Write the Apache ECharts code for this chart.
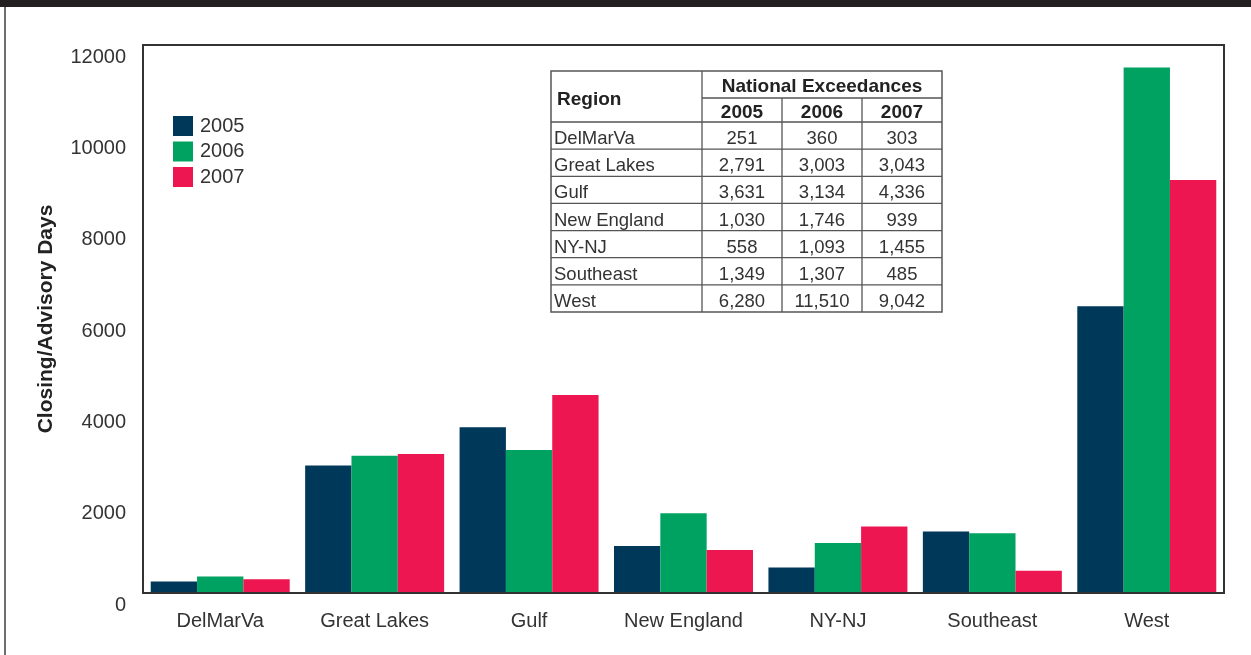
<!DOCTYPE html>
<html>
<head>
<meta charset="utf-8">
<script src="https://cdn.jsdelivr.net/npm/echarts@6/dist/echarts.min.js"></script>
<style>
  html, body { margin: 0; padding: 0; background: #fff; }
  #chart { width: 1251px; height: 655px; }
</style>
</head>
<body>
<div id="chart"></div>
<script>
// Regions and closing/advisory days per year
const regions = ['DelMarVa', 'Great Lakes', 'Gulf', 'New England', 'NY-NJ', 'Southeast', 'West'];
const years = ['2005', '2006', '2007'];
const days2005 = [251, 2791, 3631, 1030, 558, 1349, 6280];
const days2006 = [360, 3003, 3134, 1746, 1093, 1307, 11510];
const days2007 = [303, 3043, 4336, 939, 1455, 485, 9042];
const yTicks = { min: 0, max: 12000, interval: 2000 };

const seriesData = [days2005, days2006, days2007];
const colors = ['#00385a', '#00a261', '#ee1650'];
const FONT = '"Liberation Sans", Arial, sans-serif';
const TEXT = '#333333';

// Inset table of national exceedances
function buildTable() {
  const colX = [551, 702, 782, 862, 942];
  const yTop = 71, ySub = 98, yHead = 122, rowH = 27.14;
  const yBottom = yHead + rowH * regions.length;
  const line = { stroke: '#555', lineWidth: 1.3 };
  const els = [];
  els.push({ type: 'rect', shape: { x: colX[0], y: yTop, width: colX[4] - colX[0], height: yBottom - yTop },
             style: { fill: '#fff', stroke: '#555', lineWidth: 1.5 }, z: 10 });
  // vertical lines
  els.push({ type: 'line', shape: { x1: colX[1], y1: yTop, x2: colX[1], y2: yBottom }, style: line, z: 11 });
  for (let c = 2; c <= 3; c++) {
    els.push({ type: 'line', shape: { x1: colX[c], y1: ySub, x2: colX[c], y2: yBottom }, style: line, z: 11 });
  }
  // horizontal lines
  els.push({ type: 'line', shape: { x1: colX[1], y1: ySub, x2: colX[4], y2: ySub }, style: line, z: 11 });
  for (let r = 0; r < regions.length; r++) {
    const y = yHead + rowH * r;
    els.push({ type: 'line', shape: { x1: colX[0], y1: y, x2: colX[4], y2: y }, style: line, z: 11 });
  }
  const boldFont = 'bold 19px ' + FONT;
  const bodyFont = '18.5px ' + FONT;
  els.push({ type: 'text', x: 557, y: (yTop + yHead) / 2 + 3, z: 12,
             style: { text: 'Region', font: boldFont, fill: '#222', textAlign: 'left', textVerticalAlign: 'middle' } });
  els.push({ type: 'text', x: (colX[1] + colX[4]) / 2, y: (yTop + ySub) / 2 + 2, z: 12,
             style: { text: 'National Exceedances', font: boldFont, fill: '#222', textAlign: 'center', textVerticalAlign: 'middle' } });
  years.forEach((yr, i) => {
    els.push({ type: 'text', x: (colX[i + 1] + colX[i + 2]) / 2, y: (ySub + yHead) / 2 + 3, z: 12,
               style: { text: yr, font: boldFont, fill: '#222', textAlign: 'center', textVerticalAlign: 'middle' } });
  });
  regions.forEach((name, r) => {
    const cy = yHead + rowH * r + rowH / 2 + 3.5;
    els.push({ type: 'text', x: 554, y: cy, z: 12,
               style: { text: name, font: bodyFont, fill: TEXT, textAlign: 'left', textVerticalAlign: 'middle' } });
    seriesData.forEach((arr, i) => {
      els.push({ type: 'text', x: (colX[i + 1] + colX[i + 2]) / 2, y: cy, z: 12,
                 style: { text: arr[r].toLocaleString('en-US'), font: bodyFont, fill: TEXT, textAlign: 'center', textVerticalAlign: 'middle' } });
    });
  });
  return els;
}

// Page frame: dark top band and thin left rule
const frame = [
  { type: 'rect', shape: { x: 0, y: 0, width: 1251, height: 7 }, style: { fill: '#231f20' }, z: 20 },
  { type: 'rect', shape: { x: 4, y: 7, width: 2, height: 648 }, style: { fill: '#6e6e6e' }, z: 20 }
];

const chart = echarts.init(document.getElementById('chart'), null, { renderer: 'canvas' });
chart.setOption({
  animation: false,
  backgroundColor: '#ffffff',
  textStyle: { fontFamily: FONT },
  grid: { left: 143, top: 45, right: 27, bottom: 62, show: true, borderColor: '#333', borderWidth: 2, backgroundColor: 'transparent' },
  legend: {
    orient: 'vertical', left: 168, top: 111,
    itemWidth: 20, itemHeight: 20, itemGap: 5.5, icon: 'rect',
    textStyle: { fontSize: 20, color: TEXT, fontFamily: FONT, padding: [0, 0, 0, 2] },
    data: years
  },
  xAxis: {
    type: 'category', data: regions,
    axisTick: { show: false },
    axisLine: { show: true, lineStyle: { color: '#333', width: 2 } },
    axisLabel: { fontSize: 20, color: TEXT, margin: 18, interval: 0, fontFamily: FONT },
    z: 5
  },
  yAxis: {
    type: 'value', min: yTicks.min, max: yTicks.max, interval: yTicks.interval,
    name: 'Closing/Advisory Days', nameLocation: 'middle', nameGap: 86, nameRotate: 90,
    nameTextStyle: { fontSize: 21, fontWeight: 'bold', color: '#222', fontFamily: FONT },
    splitLine: { show: false }, axisTick: { show: false },
    axisLine: { show: true, lineStyle: { color: '#333', width: 2 } },
    axisLabel: {
      fontSize: 20, color: TEXT, margin: 17, fontFamily: FONT,
      verticalAlign: 'top', lineHeight: 24,
      formatter: v => String(v)
    }
  },
  series: years.map((yr, i) => ({
    name: yr, type: 'bar', data: seriesData[i],
    itemStyle: { color: colors[i] },
    barGap: '0%', barCategoryGap: '10%'
  })),
  graphic: { elements: frame.concat(buildTable()) }
});
</script>
</body>
</html>
